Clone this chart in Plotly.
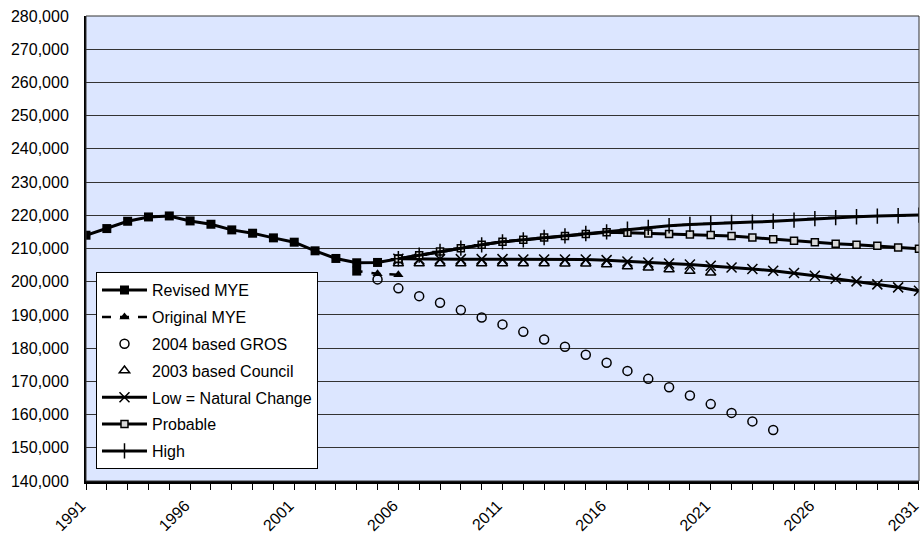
import plotly.graph_objects as go

# Population series (mid-year estimates and projections)
revised_years = list(range(1991, 2007))
revised_mye = [214000, 216000, 218200, 219500, 219800, 218300, 217300, 215600,
               214600, 213200, 211900, 209300, 207000, 205700, 205800, 206900]

# listed newest first so the legend shows the triangle symbol
original_years = [2006, 2005, 2004]
original_mye = [202100, 202400, 203200]

gros_years = list(range(2005, 2025))
gros_2004 = [200700, 198000, 195650, 193650, 191450, 189250, 187150, 184900,
             182600, 180400, 178000, 175600, 173150, 170750, 168250, 165750,
             163150, 160500, 157950, 155350]

council_years = list(range(2006, 2022))
council_2003 = [205500, 205500, 205500, 205500, 205500, 205500, 205500, 205500,
                205400, 205400, 205200, 204600, 204200, 203700, 203200, 202700]

proj_years = list(range(2006, 2032))
low = [206900, 206800, 206800, 206800, 206800, 206800, 206700, 206700, 206700,
       206700, 206500, 206100, 205800, 205500, 205200, 204800, 204300, 203800,
       203300, 202600, 201800, 200900, 200100, 199200, 198300, 197300]
probable = [206900, 208000, 209100, 210100, 211100, 212000, 212600, 213300,
            213800, 214400, 214900, 214750, 214550, 214350, 214250, 214050,
            213750, 213300, 212800, 212300, 211900, 211450, 211150, 210800,
            210300, 209900]
high = [206900, 208000, 209100, 210100, 211100, 212000, 212600, 213300, 213800,
        214500, 215000, 215800, 216350, 216850, 217250, 217550, 217850, 217950,
        218200, 218550, 219000, 219300, 219550, 219750, 219850, 220050]

year_ticks = list(range(1991, 2032, 5))

FONT = "Arial, Liberation Sans, sans-serif"
BLACK = "#000000"

fig = go.Figure()

fig.add_trace(go.Scatter(
    x=revised_years, y=revised_mye, name="Revised MYE", mode="lines+markers",
    line=dict(color=BLACK, width=3),
    marker=dict(symbol="square", size=9, color=BLACK), legendgroup="a"))

fig.add_trace(go.Scatter(
    x=original_years, y=original_mye, name="Original MYE", mode="lines+markers",
    line=dict(color=BLACK, width=2.5, dash="dash"),
    marker=dict(symbol=["triangle-up", "triangle-up", "square"], size=9, color=BLACK),
    legendgroup="b"))

fig.add_trace(go.Scatter(
    x=gros_years, y=gros_2004, name="2004 based GROS", mode="markers",
    marker=dict(symbol="circle-open", size=9, color=BLACK, line=dict(width=1.5)),
    legendgroup="c"))

fig.add_trace(go.Scatter(
    x=council_years, y=council_2003, name="2003 based Council", mode="markers",
    marker=dict(symbol="triangle-up-open", size=9, color=BLACK, line=dict(width=1.5)),
    legendgroup="d"))

fig.add_trace(go.Scatter(
    x=proj_years, y=low, name="Low = Natural Change", mode="lines+markers",
    line=dict(color=BLACK, width=3),
    marker=dict(symbol="x-thin-open", size=10, color=BLACK, line=dict(width=1.5)),
    legendgroup="e"))

fig.add_trace(go.Scatter(
    x=proj_years, y=probable, name="Probable", mode="lines+markers",
    line=dict(color=BLACK, width=3),
    marker=dict(symbol="square", size=7, color="#D8D8D8",
                line=dict(width=1.5, color=BLACK)),
    legendgroup="f"))

fig.add_trace(go.Scatter(
    x=proj_years, y=high, name="High", mode="lines+markers",
    line=dict(color=BLACK, width=3),
    marker=dict(symbol="cross-thin-open", size=11, color=BLACK, line=dict(width=1.5)),
    legendgroup="g"))

fig.update_layout(
    width=921, height=540,
    margin=dict(l=86, r=2, t=16, b=59, autoexpand=False),
    paper_bgcolor="white", plot_bgcolor="#DCE6FF",
    font=dict(family=FONT, size=16, color=BLACK),
    showlegend=True,
    legend=dict(
        x=0.012, y=0.449, xanchor="left", yanchor="top",
        bgcolor="white", bordercolor=BLACK, borderwidth=1,
        font=dict(family=FONT, size=16, color=BLACK),
        tracegroupgap=3, itemwidth=45,
    ),
    xaxis=dict(
        range=[1991, 2031.001], tickvals=year_ticks, tickangle=-45,
        ticks="outside", ticklen=6, tickcolor=BLACK, tickwidth=1,
        minor=dict(dtick=1, tick0=1991, ticks="outside", ticklen=6,
                   tickcolor=BLACK, tickwidth=1, showgrid=False),
        showgrid=False, zeroline=False,
        showline=True, linecolor=BLACK, linewidth=3,
        tickfont=dict(family=FONT, size=16, color=BLACK),
        ticklabelstandoff=0, ticklabelshift=-5, ticklabeloverflow="allow",
    ),
    yaxis=dict(
        range=[140000, 280000], dtick=10000, tickformat=",",
        showgrid=True, gridcolor="#333333", gridwidth=1,
        zeroline=False, showline=True, linecolor=BLACK, linewidth=2,
        ticks="", tickfont=dict(family=FONT, size=16, color=BLACK),
        ticklabelstandoff=12,
    ),
)

# thin frame around the plotting area
fig.add_shape(type="rect", xref="paper", yref="paper", x0=0, y0=0, x1=1, y1=1,
              line=dict(color="#333333", width=1), layer="above")

fig.write_html("out.html")
